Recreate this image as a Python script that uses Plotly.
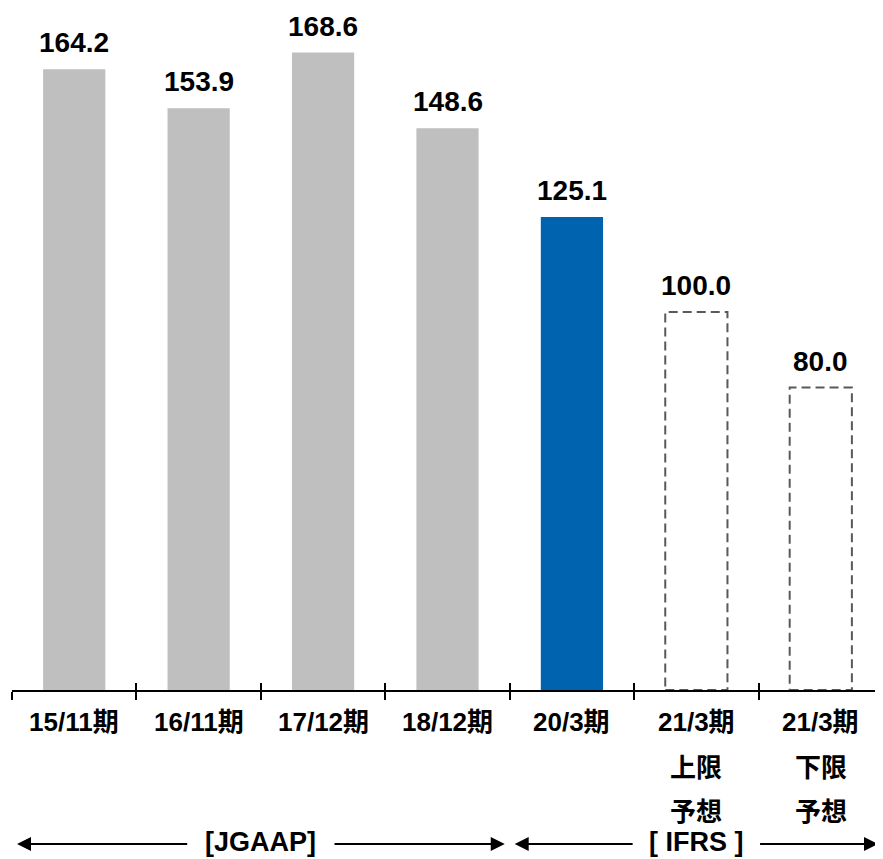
import plotly.graph_objects as go

# ---- data ----
periods = ["15/11期", "16/11期", "17/12期", "18/12期", "20/3期", "21/3期", "21/3期"]
sub_line1 = ["", "", "", "", "", "上限", "下限"]
sub_line2 = ["", "", "", "", "", "予想", "予想"]
values = [164.2, 153.9, 168.6, 148.6, 125.1, 100.0, 80.0]
kinds = ["actual", "actual", "actual", "actual", "latest", "forecast", "forecast"]
groups = [("[JGAAP]", 0, 3, 0.58), ("[ IFRS ]", 4, 6, 0.5)]

colors = {"actual": "#BFBFBF", "latest": "#0063AF", "forecast": "#FFFFFF"}
FONT = "Liberation Sans, Arial, Noto Sans CJK JP, sans-serif"
BAR_W = 0.5

xs = list(range(len(values)))

fig = go.Figure()
fig.add_trace(go.Bar(
    x=xs, y=values, width=BAR_W,
    marker=dict(color=[colors[k] for k in kinds], line=dict(width=0)),
    hoverinfo="skip", showlegend=False,
))
# dummy trace so overlay axis renders
fig.add_trace(go.Scatter(x=[xs[0]], y=[0], xaxis="x2", mode="markers",
                         marker=dict(opacity=0), hoverinfo="skip", showlegend=False))

shapes = []
for i, (v, k) in enumerate(zip(values, kinds)):
    if k == "forecast":
        shapes.append(dict(type="rect", xref="x", yref="y",
                           x0=i - BAR_W / 2, x1=i + BAR_W / 2, y0=0, y1=v,
                           line=dict(color="#595959", width=2, dash="9px,5px"),
                           fillcolor="rgba(0,0,0,0)", layer="above"))

annotations = []
for i, v in enumerate(values):
    annotations.append(dict(x=i, y=v, xref="x", yref="y", text=f"<b>{v:.1f}</b>",
                            showarrow=False, yanchor="bottom", yshift=9,
                            font=dict(family=FONT, size=28, color="#000000")))
for i in xs:
    for line, shift in ((periods, -32), (sub_line1, -78), (sub_line2, -122)):
        if line[i]:
            annotations.append(dict(x=i, y=0, xref="x", yref="paper", text=f"<b>{line[i]}</b>",
                                    showarrow=False, yanchor="middle", yshift=shift,
                                    font=dict(family=FONT, size=26, color="#000000")))

ARROW_Y = -154
for label, a, b, half in groups:
    left = a - 0.5
    right = b + 0.5
    center = (a + b) / 2
    annotations.append(dict(x=center, y=0, xref="x", yref="paper", text=f"<b>{label}</b>",
                            showarrow=False, yanchor="middle", yshift=-152, borderpad=0,
                            font=dict(family=FONT, size=27, color="#000000")))
    for tip, tail in ((left + 0.04, center - half), (right - 0.04, center + half)):
        annotations.append(dict(x=tip, y=0, xref="x", yref="paper", text="",
                                showarrow=True, axref="x", ax=tail, ayref="pixel", ay=0,
                                arrowhead=2, arrowsize=1.4, arrowwidth=2,
                                arrowcolor="#000000", standoff=0, startstandoff=0,
                                yshift=ARROW_Y))

tick_vals = [i - 0.5 for i in range(len(values) + 1)]
fig.update_layout(
    width=875, height=851,
    margin=dict(l=4, r=0, t=0, b=169),
    paper_bgcolor="#FFFFFF", plot_bgcolor="#FFFFFF",
    bargap=0.5,
    xaxis=dict(range=[-0.5, len(values) - 0.5], tickvals=tick_vals, showticklabels=False,
               ticks="outside", ticklen=8, tickwidth=1.5, tickcolor="#000000",
               showline=True, linecolor="#000000", linewidth=2, showgrid=False,
               zeroline=False, fixedrange=True),
    xaxis2=dict(overlaying="x", range=[-0.5, len(values) - 0.5], tickvals=tick_vals,
                showticklabels=False, ticks="inside", ticklen=7, tickwidth=1.5,
                tickcolor="#000000", showline=False, showgrid=False, zeroline=False,
                side="bottom", anchor="y"),
    yaxis=dict(range=[0, 180.4], visible=False, fixedrange=True),
    shapes=shapes,
    annotations=annotations,
)

fig.write_html("out.html")
